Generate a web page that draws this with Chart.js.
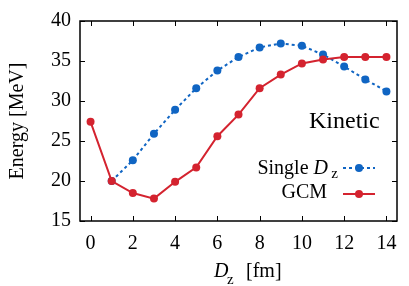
<!DOCTYPE html>
<html>
<head>
<meta charset="utf-8">
<script src="https://cdn.jsdelivr.net/npm/chart.js@4"></script>
<style>
  html, body { margin: 0; padding: 0; background: #fff; }
  #wrap { width: 409px; height: 286px; }
</style>
</head>
<body>
<div id="wrap"><canvas id="c" width="409" height="286"></canvas></div>
<script>
// data
const dz = [0, 1, 2, 3, 4, 5, 6, 7, 8, 9, 10, 11, 12, 13, 14];
const singleDz = [null, 20.0, 22.6, 25.9, 28.9, 31.6, 33.8, 35.5, 36.7, 37.2, 36.9, 35.8, 34.3, 32.7, 31.2];
const gcm = [27.4, 20.0, 18.5, 17.8, 19.9, 21.7, 25.6, 28.3, 31.6, 33.3, 34.7, 35.2, 35.5, 35.5, 35.5];
const xTicks = [0, 2, 4, 6, 8, 10, 12, 14];
const yTicks = [15, 20, 25, 30, 35, 40];

const BLUE = '#1065c3';
const RED = '#d4232f';
const FONT = 'Liberation Serif';

Chart.defaults.font.family = FONT;
Chart.defaults.font.size = 20;
Chart.defaults.color = '#000';

const pts = vals => dz.map((x, i) => ({ x, y: vals[i] })).filter(p => p.y != null);

// ── frame: inward ticks on all sides, titles, legend, label ───────
const framePlugin = {
  id: 'frame',
  afterDraw(chart) {
    const { ctx, chartArea: A, scales } = chart;
    const xs = scales.x, ys = scales.y;
    const tl = 5;
    ctx.save();
    ctx.strokeStyle = '#000';
    ctx.lineWidth = 1.5;
    ctx.strokeRect(A.left, A.top, A.right - A.left, A.bottom - A.top);
    ctx.lineWidth = 1;
    ctx.beginPath();
    for (const v of xTicks) {
      const px = Math.round(xs.getPixelForValue(v)) + 0.5;
      ctx.moveTo(px, A.bottom); ctx.lineTo(px, A.bottom - tl);
      ctx.moveTo(px, A.top); ctx.lineTo(px, A.top + tl);
    }
    for (const v of yTicks) {
      const py = Math.round(ys.getPixelForValue(v)) + 0.5;
      ctx.moveTo(A.left, py); ctx.lineTo(A.left + tl, py);
      ctx.moveTo(A.right, py); ctx.lineTo(A.right - tl, py);
    }
    ctx.stroke();

    ctx.fillStyle = '#000';
    // y title
    ctx.save();
    ctx.translate(23, (A.top + A.bottom) / 2);
    ctx.rotate(-Math.PI / 2);
    ctx.font = `20px ${FONT}`;
    ctx.textAlign = 'center';
    ctx.textBaseline = 'alphabetic';
    ctx.fillText('Energy [MeV]', 0, 0);
    ctx.restore();

    // x title: D_z [fm]
    ctx.textBaseline = 'alphabetic';
    ctx.textAlign = 'left';
    ctx.font = `italic 20px ${FONT}`;
    ctx.fillText('D', 214, 277);
    ctx.font = `15px ${FONT}`;
    ctx.fillText('z', 227, 284);
    ctx.font = `20px ${FONT}`;
    ctx.fillText('[fm]', 246, 277);

    // panel label
    ctx.font = `24px ${FONT}`;
    ctx.fillText('Kinetic', 309, 128);

    // legend
    ctx.font = `20px ${FONT}`;
    ctx.textAlign = 'right';
    ctx.fillText('GCM', 327, 198);
    ctx.font = `15px ${FONT}`;
    ctx.fillText('z', 338, 178);
    ctx.font = `italic 20px ${FONT}`;
    ctx.fillText('D', 328, 174);
    const wD = ctx.measureText('D').width;
    ctx.font = `20px ${FONT}`;
    ctx.fillText('Single ', 328 - wD, 174);

    const rows = [
      { y: 168, color: BLUE, dash: [3, 3] },
      { y: 194, color: RED, dash: [] },
    ];
    for (const r of rows) {
      ctx.strokeStyle = r.color;
      ctx.lineWidth = 2;
      ctx.setLineDash(r.dash);
      ctx.beginPath();
      ctx.moveTo(343, r.y); ctx.lineTo(375, r.y);
      ctx.stroke();
      ctx.setLineDash([]);
      ctx.fillStyle = r.color;
      ctx.beginPath();
      ctx.arc(359, r.y, 4, 0, Math.PI * 2);
      ctx.fill();
    }
    ctx.restore();
  },
};

new Chart(document.getElementById('c'), {
  type: 'line',
  plugins: [framePlugin],
  data: {
    datasets: [
      {
        label: 'Single Dz',
        data: pts(singleDz),
        borderColor: BLUE,
        backgroundColor: BLUE,
        borderWidth: 2,
        borderDash: [3, 3],
        pointRadius: 4,
        pointBorderWidth: 0,
        order: 1,
      },
      {
        label: 'GCM',
        data: pts(gcm),
        borderColor: RED,
        backgroundColor: RED,
        borderWidth: 2,
        pointRadius: 4,
        pointBorderWidth: 0,
        order: 0,
      },
    ],
  },
  options: {
    responsive: false,
    animation: false,
    layout: { padding: { top: 13, right: 12, left: 0, bottom: 0 } },
    plugins: { legend: { display: false }, tooltip: { enabled: false } },
    scales: {
      x: {
        type: 'linear',
        min: -0.5,
        max: 14.5,
        afterFit(s) { s.height = 65; },
        afterBuildTicks(s) { s.ticks = xTicks.map(v => ({ value: v })); },
        grid: { display: false, drawTicks: false },
        border: { display: false },
        ticks: { color: '#000', padding: 11 },
      },
      y: {
        min: 15,
        max: 40,
        afterFit(s) { s.width = 80; },
        afterBuildTicks(s) { s.ticks = yTicks.map(v => ({ value: v })); },
        grid: { display: false, drawTicks: false },
        border: { display: false },
        ticks: { color: '#000', padding: 9 },
      },
    },
  },
});
</script>
</body>
</html>
